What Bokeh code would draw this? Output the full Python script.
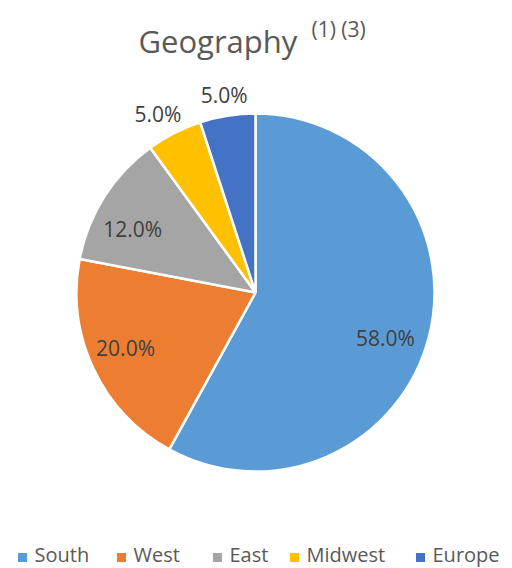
import math
from bokeh.plotting import figure
from bokeh.models import Range1d, ColumnDataSource
from bokeh.core.properties import value
from bokeh.embed import file_html
from bokeh.resources import INLINE

# ---- data ----
categories = ["South", "West", "East", "Midwest", "Europe"]
shares = [58.0, 20.0, 12.0, 5.0, 5.0]
colors = ["#5B9BD5", "#ED7D31", "#A5A5A5", "#FFC000", "#4472C4"]
title_main = "Geography"
title_sup = "(1) (3)"

# ---- layout (pixels, y measured from top) ----
W, H = 512, 568
CX, CY, R = 255, 292, 179
label_rfac = [0.75, 0.79, 0.78, 1.14, 1.115]
label_nudge = [(0, -12), (-2, 5), (-5, -11), (-5, -3), (0, 0)]
legend_marker_x = [22, 121, 217, 294, 420]
legend_marker_y = 557
legend_text_y = 554

FONT = "Open Sans"

p = figure(width=W, height=H, x_range=Range1d(0, W), y_range=Range1d(0, H),
           output_backend="svg", toolbar_location=None, min_border=0,
           background_fill_color="white", border_fill_color="white")
p.axis.visible = False
p.grid.visible = False
p.outline_line_color = None

total = sum(shares)
starts, ends, lx, ly, labels = [], [], [], [], []
cum = 0.0
for i, s in enumerate(shares):
    a0 = math.pi / 2 - 2 * math.pi * cum / total
    cum += s
    a1 = math.pi / 2 - 2 * math.pi * cum / total
    starts.append(a0)
    ends.append(a1)
    mid = (a0 + a1) / 2
    rr = R * label_rfac[i]
    dx, dy = label_nudge[i]
    lx.append(CX + rr * math.cos(mid) + dx)
    ly.append(H - CY + rr * math.sin(mid) + dy)
    labels.append(f"{s:.1f}%")

src = ColumnDataSource(dict(start=starts, end=ends, color=colors, cat=categories,
                            lx=lx, ly=ly, label=labels))

p.wedge(x=CX, y=H - CY, radius=R, start_angle="start", end_angle="end",
        direction="clock", fill_color="color", line_color="white", line_width=2.5,
        source=src)

p.text(x="lx", y="ly", text="label", source=src, text_align="center",
       text_baseline="middle", text_font=value(FONT), text_font_size="21px",
       text_color="#404040")

# title
p.text(x=[138], y=[H - 40], text=[title_main], text_align="left",
       text_baseline="alphabetic", text_font=value(FONT), text_font_size="31px",
       text_color="#595959")
p.text(x=[311], y=[H - 28], text=[title_sup], text_align="left",
       text_baseline="alphabetic", text_font=value(FONT), text_font_size="21px",
       text_color="#595959")

# legend
p.scatter(x=legend_marker_x, y=[H - legend_marker_y] * len(categories), marker="square",
          size=9, fill_color=colors, line_color=None)
p.text(x=[x + 12 for x in legend_marker_x], y=[H - legend_text_y] * len(categories),
       text=categories, text_align="left", text_baseline="middle",
       text_font=value(FONT), text_font_size="20px", text_color="#595959")

open("out.html", "w").write(file_html(p, INLINE))
